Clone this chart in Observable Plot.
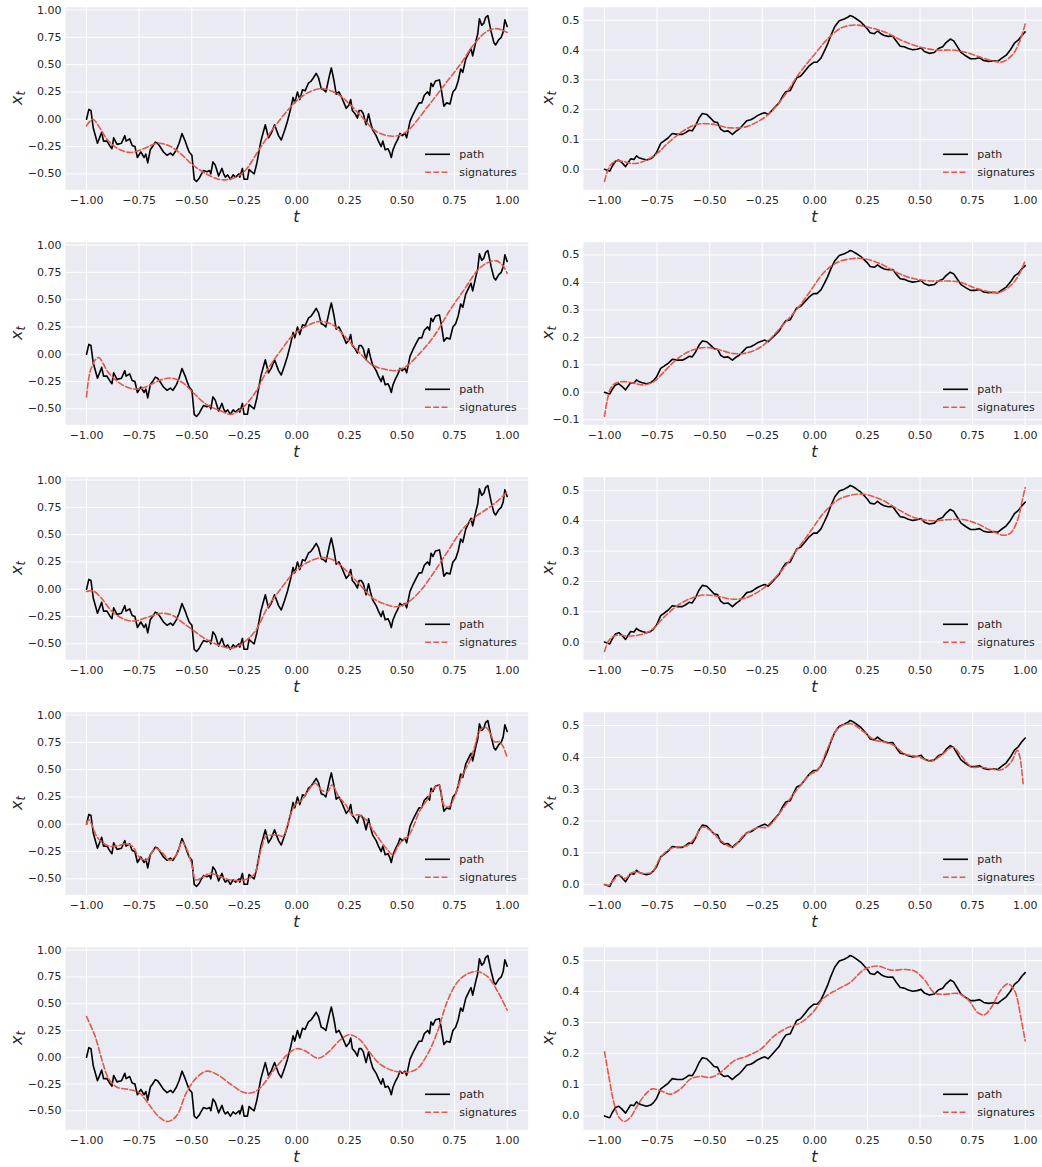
<!DOCTYPE html>
<html><head><meta charset="utf-8">
<script src="https://cdn.jsdelivr.net/npm/d3@7"></script>
<script src="https://cdn.jsdelivr.net/npm/@observablehq/plot@0.6"></script>
<style>
html,body{margin:0;padding:0;background:#fff;overflow:hidden;}
#fig{position:relative;width:1042px;height:1167px;overflow:hidden;background:#fff;}
.panel{position:absolute;}
</style></head><body><div id="fig"></div>
<script>
// ---- ticks / labels ----
const tTicks = [-1, -0.75, -0.5, -0.25, 0, 0.25, 0.5, 0.75, 1];
const leftYTicks = [-0.5, -0.25, 0, 0.25, 0.5, 0.75, 1];
const rightYTicks = [-0.1, 0, 0.1, 0.2, 0.3, 0.4, 0.5];
const legendLabels = ["path", "signatures"];
const xLabel = "t";
const yLabelMain = "x", yLabelSub = "t";

// ---- left path (t, x_t) ----
const leftPath = [
[-1.000,0.00],[-0.989,0.09],[-0.979,0.08],[-0.968,-0.08],[-0.948,-0.22],[-0.928,-0.12],[-0.919,-0.20],[-0.903,-0.20],
[-0.887,-0.25],[-0.879,-0.27],[-0.871,-0.17],[-0.855,-0.23],[-0.834,-0.22],[-0.818,-0.15],[-0.812,-0.20],[-0.795,-0.18],
[-0.783,-0.24],[-0.770,-0.25],[-0.758,-0.35],[-0.742,-0.30],[-0.726,-0.35],[-0.718,-0.32],[-0.709,-0.40],[-0.697,-0.28],
[-0.686,-0.25],[-0.673,-0.21],[-0.662,-0.22],[-0.651,-0.25],[-0.634,-0.30],[-0.617,-0.33],[-0.601,-0.31],[-0.589,-0.33],
[-0.573,-0.28],[-0.560,-0.22],[-0.546,-0.13],[-0.531,-0.20],[-0.520,-0.26],[-0.512,-0.30],[-0.499,-0.33],[-0.488,-0.55],
[-0.477,-0.57],[-0.464,-0.54],[-0.456,-0.51],[-0.444,-0.47],[-0.428,-0.48],[-0.415,-0.47],[-0.409,-0.50],[-0.399,-0.39],
[-0.388,-0.42],[-0.380,-0.47],[-0.372,-0.52],[-0.356,-0.45],[-0.348,-0.50],[-0.340,-0.53],[-0.329,-0.51],[-0.316,-0.55],
[-0.303,-0.51],[-0.291,-0.53],[-0.275,-0.50],[-0.271,-0.53],[-0.259,-0.45],[-0.251,-0.55],[-0.235,-0.55],[-0.227,-0.46],
[-0.216,-0.48],[-0.203,-0.50],[-0.190,-0.40],[-0.171,-0.20],[-0.150,-0.05],[-0.135,-0.17],[-0.122,-0.13],[-0.106,-0.05],
[-0.087,-0.15],[-0.074,-0.19],[-0.058,-0.10],[-0.045,-0.02],[-0.029,0.10],[-0.018,0.20],[-0.010,0.15],[0.003,0.25],
[0.014,0.18],[0.027,0.27],[0.039,0.26],[0.055,0.33],[0.068,0.35],[0.079,0.38],[0.092,0.42],[0.103,0.38],
[0.116,0.28],[0.127,0.27],[0.138,0.25],[0.155,0.40],[0.164,0.47],[0.177,0.35],[0.187,0.23],[0.200,0.25],
[0.213,0.20],[0.224,0.15],[0.235,0.10],[0.248,0.13],[0.256,0.18],[0.264,0.08],[0.277,0.05],[0.288,0.01],
[0.296,0.08],[0.306,0.08],[0.316,0.05],[0.329,-0.05],[0.341,0.05],[0.349,-0.02],[0.361,-0.10],[0.377,-0.15],
[0.388,-0.20],[0.401,-0.25],[0.409,-0.20],[0.420,-0.28],[0.433,-0.27],[0.441,-0.30],[0.449,-0.35],[0.457,-0.28],
[0.470,-0.22],[0.481,-0.18],[0.490,-0.13],[0.501,-0.15],[0.514,-0.13],[0.522,-0.17],[0.538,-0.02],[0.554,0.05],
[0.567,0.10],[0.581,0.15],[0.594,0.15],[0.606,0.22],[0.622,0.25],[0.631,0.22],[0.638,0.33],[0.647,0.30],
[0.659,0.35],[0.678,0.36],[0.686,0.28],[0.699,0.12],[0.712,0.15],[0.728,0.14],[0.742,0.25],[0.755,0.28],
[0.767,0.35],[0.779,0.46],[0.789,0.43],[0.803,0.55],[0.820,0.62],[0.828,0.65],[0.836,0.58],[0.852,0.72],
[0.860,0.78],[0.868,0.92],[0.879,0.86],[0.889,0.88],[0.897,0.93],[0.908,0.95],[0.924,0.80],[0.937,0.70],
[0.945,0.68],[0.960,0.73],[0.972,0.75],[0.981,0.80],[0.989,0.91],[1.000,0.85]
];

// ---- right path (t, x_t) ----
const rightPath = [
[-1.000,0.000],[-0.984,-0.004],[-0.975,-0.006],[-0.963,0.011],[-0.948,0.027],[-0.932,0.031],[-0.916,0.021],[-0.900,0.009],
[-0.889,0.021],[-0.876,0.035],[-0.860,0.033],[-0.848,0.045],[-0.837,0.039],[-0.821,0.035],[-0.800,0.031],[-0.781,0.035],
[-0.768,0.042],[-0.752,0.057],[-0.733,0.087],[-0.717,0.095],[-0.698,0.105],[-0.678,0.120],[-0.654,0.117],[-0.630,0.117],
[-0.614,0.123],[-0.598,0.131],[-0.583,0.129],[-0.567,0.147],[-0.551,0.171],[-0.535,0.187],[-0.514,0.184],[-0.495,0.171],
[-0.479,0.159],[-0.463,0.157],[-0.448,0.135],[-0.432,0.127],[-0.413,0.129],[-0.392,0.117],[-0.376,0.127],[-0.360,0.135],
[-0.344,0.147],[-0.324,0.163],[-0.305,0.166],[-0.292,0.171],[-0.273,0.180],[-0.254,0.186],[-0.238,0.190],[-0.222,0.184],
[-0.206,0.196],[-0.186,0.211],[-0.170,0.223],[-0.154,0.244],[-0.138,0.260],[-0.117,0.264],[-0.102,0.286],[-0.086,0.307],
[-0.067,0.313],[-0.048,0.329],[-0.027,0.347],[-0.006,0.359],[0.010,0.359],[0.029,0.373],[0.044,0.395],[0.060,0.419],
[0.076,0.449],[0.095,0.479],[0.116,0.498],[0.140,0.504],[0.156,0.510],[0.168,0.516],[0.179,0.513],[0.195,0.506],
[0.219,0.494],[0.235,0.482],[0.251,0.470],[0.263,0.458],[0.283,0.455],[0.298,0.464],[0.314,0.455],[0.330,0.449],
[0.349,0.446],[0.370,0.447],[0.386,0.431],[0.406,0.413],[0.425,0.411],[0.444,0.405],[0.465,0.401],[0.486,0.403],
[0.505,0.407],[0.521,0.395],[0.544,0.389],[0.568,0.392],[0.587,0.405],[0.608,0.411],[0.624,0.425],[0.644,0.437],
[0.660,0.431],[0.676,0.413],[0.695,0.392],[0.719,0.380],[0.740,0.371],[0.762,0.371],[0.783,0.374],[0.803,0.365],
[0.825,0.362],[0.851,0.364],[0.870,0.362],[0.886,0.371],[0.910,0.383],[0.930,0.401],[0.949,0.423],[0.968,0.434],
[0.984,0.449],[1.000,0.461]
];

// ---- signature approximations, left column (rows 1-5) ----
const sigL1 = [[-1.00,-0.06],[-0.97,0.00],[-0.94,-0.07],[-0.90,-0.19],[-0.85,-0.27],[-0.79,-0.305],[-0.73,-0.27],[-0.66,-0.22],
[-0.60,-0.25],[-0.55,-0.32],[-0.50,-0.41],[-0.44,-0.49],[-0.38,-0.545],[-0.34,-0.555],[-0.29,-0.53],[-0.25,-0.48],[-0.17,-0.25],
[-0.095,-0.04],[0.00,0.17],[0.06,0.25],[0.12,0.28],[0.19,0.235],[0.25,0.14],[0.30,0.04],[0.38,-0.115],[0.46,-0.155],[0.52,-0.115],
[0.62,0.11],[0.70,0.31],[0.78,0.51],[0.84,0.68],[0.90,0.80],[0.95,0.83],[1.00,0.795]];
const sigL2 = [[-1.00,-0.39],[-0.98,-0.14],[-0.944,-0.03],[-0.895,-0.17],[-0.83,-0.28],[-0.77,-0.32],[-0.72,-0.30],[-0.64,-0.23],
[-0.59,-0.22],[-0.54,-0.265],[-0.49,-0.357],[-0.43,-0.46],[-0.36,-0.52],[-0.316,-0.55],[-0.27,-0.51],[-0.20,-0.357],[-0.14,-0.143],
[-0.074,0.04],[-0.01,0.19],[0.07,0.28],[0.11,0.30],[0.17,0.27],[0.23,0.16],[0.30,0.01],[0.36,-0.10],[0.425,-0.14],[0.47,-0.15],
[0.52,-0.11],[0.585,0.01],[0.65,0.16],[0.73,0.41],[0.795,0.59],[0.86,0.77],[0.908,0.84],[0.95,0.855],[0.98,0.81],[1.00,0.74]];
const sigL3 = [[-1.00,-0.02],[-0.968,-0.015],[-0.93,-0.08],[-0.88,-0.20],[-0.815,-0.28],[-0.77,-0.29],[-0.70,-0.25],[-0.64,-0.22],
[-0.59,-0.24],[-0.54,-0.31],[-0.49,-0.38],[-0.43,-0.46],[-0.36,-0.52],[-0.316,-0.54],[-0.27,-0.51],[-0.20,-0.39],[-0.14,-0.17],
[-0.074,0.01],[-0.01,0.16],[0.055,0.25],[0.12,0.29],[0.17,0.27],[0.23,0.18],[0.30,0.04],[0.36,-0.08],[0.425,-0.14],[0.47,-0.16],
[0.52,-0.13],[0.585,-0.02],[0.65,0.15],[0.715,0.34],[0.78,0.53],[0.84,0.65],[0.908,0.74],[0.956,0.81],[1.00,0.89]];
const sigL4 = [[-1.000,0.00],[-0.989,0.04],[-0.976,0.00],[-0.952,-0.11],[-0.928,-0.16],[-0.895,-0.20],[-0.855,-0.20],[-0.815,-0.18],
[-0.783,-0.20],[-0.750,-0.30],[-0.718,-0.33],[-0.686,-0.25],[-0.670,-0.22],[-0.638,-0.265],[-0.605,-0.33],[-0.573,-0.28],
[-0.546,-0.16],[-0.525,-0.22],[-0.501,-0.36],[-0.480,-0.51],[-0.452,-0.49],[-0.412,-0.45],[-0.364,-0.48],[-0.316,-0.51],
[-0.251,-0.51],[-0.203,-0.46],[-0.171,-0.235],[-0.147,-0.11],[-0.122,-0.10],[-0.090,-0.10],[-0.066,-0.11],[-0.042,0.006],
[-0.010,0.175],[0.023,0.22],[0.055,0.31],[0.087,0.375],[0.119,0.31],[0.148,0.30],[0.167,0.36],[0.200,0.25],[0.232,0.18],
[0.264,0.085],[0.296,0.085],[0.329,0.04],[0.361,-0.05],[0.393,-0.14],[0.425,-0.22],[0.457,-0.28],[0.481,-0.20],[0.506,-0.14],
[0.530,-0.11],[0.554,-0.02],[0.586,0.13],[0.618,0.22],[0.643,0.31],[0.675,0.36],[0.699,0.175],[0.723,0.16],[0.755,0.28],
[0.787,0.45],[0.820,0.57],[0.844,0.70],[0.868,0.85],[0.895,0.89],[0.916,0.85],[0.940,0.755],[0.964,0.755],[0.981,0.71],[1.000,0.61]];
const sigL5 = [[-1.00,0.38],[-0.96,0.20],[-0.928,-0.016],[-0.895,-0.20],[-0.855,-0.28],[-0.80,-0.30],[-0.75,-0.33],[-0.70,-0.45],
[-0.654,-0.56],[-0.614,-0.60],[-0.573,-0.55],[-0.525,-0.33],[-0.477,-0.19],[-0.428,-0.13],[-0.38,-0.16],[-0.316,-0.25],
[-0.251,-0.33],[-0.21,-0.33],[-0.171,-0.28],[-0.106,-0.11],[-0.042,0.03],[-0.002,0.08],[0.039,0.06],[0.103,-0.01],[0.151,0.05],
[0.20,0.15],[0.248,0.21],[0.296,0.17],[0.345,0.05],[0.393,-0.06],[0.457,-0.125],[0.522,-0.14],[0.57,-0.11],[0.618,0.016],
[0.667,0.23],[0.715,0.52],[0.763,0.70],[0.812,0.78],[0.86,0.80],[0.908,0.75],[0.956,0.61],[1.00,0.44]];

// ---- signature approximations, right column (rows 1-5) ----
const sigR1 = [[-1.00,-0.041],[-0.984,-0.002],[-0.964,0.02],[-0.94,0.028],[-0.908,0.026],[-0.876,0.02],[-0.845,0.02],[-0.80,0.031],
[-0.75,0.053],[-0.70,0.087],[-0.655,0.114],[-0.607,0.137],[-0.56,0.151],[-0.512,0.153],[-0.464,0.148],[-0.417,0.14],[-0.37,0.139],
[-0.32,0.144],[-0.274,0.159],[-0.226,0.181],[-0.18,0.214],[-0.13,0.262],[-0.076,0.32],[0.00,0.387],[0.067,0.442],[0.13,0.476],
[0.194,0.484],[0.258,0.476],[0.338,0.459],[0.417,0.431],[0.497,0.411],[0.576,0.40],[0.656,0.40],[0.72,0.392],[0.80,0.373],
[0.863,0.361],[0.895,0.361],[0.943,0.387],[0.975,0.431],[1.00,0.487]];
const sigR2 = [[-1.00,-0.088],[-0.987,-0.028],[-0.971,0.014],[-0.948,0.033],[-0.908,0.039],[-0.86,0.033],[-0.813,0.027],[-0.765,0.039],
[-0.717,0.075],[-0.67,0.111],[-0.622,0.139],[-0.559,0.159],[-0.51,0.163],[-0.448,0.153],[-0.384,0.141],[-0.32,0.144],[-0.257,0.165],
[-0.21,0.196],[-0.146,0.25],[-0.083,0.304],[-0.019,0.371],[0.044,0.437],[0.108,0.473],[0.171,0.486],[0.235,0.486],[0.314,0.467],
[0.394,0.434],[0.473,0.413],[0.552,0.405],[0.632,0.405],[0.695,0.40],[0.759,0.38],[0.822,0.367],[0.87,0.362],[0.90,0.371],
[0.94,0.395],[0.973,0.431],[1.00,0.479]];
const sigR3 = [[-1.00,-0.031],[-0.98,0.005],[-0.948,0.022],[-0.892,0.02],[-0.83,0.024],[-0.78,0.038],[-0.717,0.082],[-0.654,0.12],
[-0.59,0.144],[-0.527,0.155],[-0.463,0.151],[-0.40,0.142],[-0.337,0.144],[-0.273,0.164],[-0.21,0.197],[-0.146,0.246],[-0.083,0.306],
[-0.019,0.367],[0.044,0.427],[0.108,0.468],[0.171,0.484],[0.235,0.487],[0.314,0.47],[0.394,0.438],[0.473,0.41],[0.552,0.40],
[0.632,0.403],[0.711,0.403],[0.775,0.389],[0.838,0.367],[0.90,0.352],[0.933,0.361],[0.965,0.405],[0.984,0.46],[1.00,0.509]];
const sigR4 = [[-1.00,0.000],[-0.98,-0.002],[-0.956,0.014],[-0.932,0.03],[-0.90,0.019],[-0.876,0.035],[-0.848,0.04],[-0.813,0.035],
[-0.773,0.04],[-0.733,0.087],[-0.686,0.113],[-0.654,0.118],[-0.606,0.123],[-0.567,0.15],[-0.535,0.181],[-0.495,0.17],[-0.448,0.139],
[-0.392,0.118],[-0.337,0.155],[-0.273,0.179],[-0.225,0.181],[-0.17,0.223],[-0.13,0.259],[-0.083,0.30],[-0.019,0.348],[0.013,0.359],
[0.06,0.427],[0.108,0.49],[0.171,0.506],[0.235,0.479],[0.283,0.455],[0.33,0.448],[0.378,0.437],[0.425,0.411],[0.489,0.403],
[0.552,0.388],[0.60,0.406],[0.656,0.432],[0.695,0.406],[0.743,0.371],[0.79,0.369],[0.838,0.364],[0.886,0.361],[0.933,0.385],
[0.962,0.422],[0.975,0.40],[0.99,0.317]];
const sigR5 = [[-1.00,0.206],[-0.98,0.129],[-0.956,0.044],[-0.932,-0.004],[-0.905,-0.018],[-0.876,-0.004],[-0.844,0.033],[-0.805,0.07],
[-0.773,0.087],[-0.733,0.081],[-0.686,0.07],[-0.638,0.087],[-0.59,0.119],[-0.543,0.127],[-0.495,0.124],[-0.448,0.14],[-0.384,0.177],
[-0.32,0.193],[-0.257,0.215],[-0.194,0.257],[-0.13,0.284],[-0.067,0.30],[-0.011,0.332],[0.044,0.38],[0.108,0.407],[0.171,0.431],
[0.235,0.471],[0.298,0.482],[0.362,0.469],[0.425,0.471],[0.473,0.466],[0.52,0.439],[0.568,0.396],[0.616,0.391],[0.68,0.394],
[0.727,0.375],[0.775,0.332],[0.806,0.325],[0.838,0.348],[0.886,0.407],[0.918,0.425],[0.95,0.402],[0.981,0.311],[1.00,0.241]];

const leftSigs = [sigL1, sigL2, sigL3, sigL4, sigL5];
const rightSigs = [sigR1, sigR2, sigR3, sigR4, sigR5];

// ---- drawing ----
const PATH_COLOR = "#000000";
const SIG_COLOR = "#e0594a";
const BG = "#eaeaf2";
const TEXT = "#262626";
const DASH = "5.8,2.5";
const fig = document.getElementById("fig");

function panel(side, row, pathData, sigData) {
  const g = side === "left"
    ? {left: 0, width: 530, mL: 65, mR: 2.3, fmt: ".2f", yTicks: leftYTicks, ylab: 43}
    : {left: 530, width: 516, mL: 53, mR: 0.3, fmt: ".1f", yTicks: rightYTicks, ylab: 30.5};
  const H = 235, mT = 6.7, mB = 45.7;
  const vals = pathData.map(d => d[1]).concat(sigData.map(d => d[1]));
  const lo = d3.min(vals), hi = d3.max(vals), pad = (hi - lo) * 0.05;
  const yDom = [lo - pad, hi + pad];
  const yT = g.yTicks.filter(v => v >= yDom[0] && v <= yDom[1]);
  const svg = Plot.plot({
    width: g.width, height: H,
    marginLeft: g.mL, marginRight: g.mR, marginTop: mT, marginBottom: mB,
    style: {fontFamily: "'DejaVu Sans', sans-serif", fontSize: "11px", color: TEXT, background: "transparent", overflow: "visible", maxWidth: "none"},
    x: {domain: [-1.1, 1.1], ticks: tTicks, tickFormat: d3.format(".2f"), tickSize: 0, tickPadding: 6, label: null},
    y: {domain: yDom, ticks: yT, tickFormat: d3.format(g.fmt), tickSize: 0, tickPadding: 4, label: null},
    marks: [
      Plot.frame({fill: BG, stroke: "none"}),
      Plot.ruleX(tTicks, {stroke: "white", strokeWidth: 1}),
      Plot.ruleY(yT, {stroke: "white", strokeWidth: 1}),
      Plot.line(pathData, {x: d => d[0], y: d => d[1], stroke: PATH_COLOR, strokeWidth: 1.6}),
      Plot.line(sigData, {x: d => d[0], y: d => d[1], stroke: SIG_COLOR, strokeWidth: 1.6, strokeDasharray: DASH, curve: "catmull-rom"})
    ]
  });
  const s = d3.select(svg);
  const pr = g.width - g.mR, pb = H - mB, cx = (g.mL + pr) / 2, cy = (mT + pb) / 2;
  // x label
  s.append("text").attr("x", cx).attr("y", pb + 32.5).attr("text-anchor", "middle")
    .attr("font-style", "italic").attr("font-size", "16px").attr("fill", TEXT).text(xLabel);
  // y label
  const yl = s.append("text").attr("transform", `translate(${g.mL - g.ylab},${cy}) rotate(-90)`)
    .attr("text-anchor", "middle").attr("font-size", "16px").attr("fill", TEXT).attr("font-style", "italic");
  yl.append("tspan").text(yLabelMain);
  yl.append("tspan").attr("font-size", "11.5px").attr("dy", "0.3em").text(yLabelSub);
  // legend
  const lx0 = pr - 102.7, lx1 = pr - 77.7, tx = pr - 68.4;
  const items = [[pb - 35, PATH_COLOR, null], [pb - 17, SIG_COLOR, DASH]];
  items.forEach(([y, c, dash], i) => {
    const ln = s.append("line").attr("x1", lx0).attr("x2", lx1).attr("y1", y).attr("y2", y)
      .attr("stroke", c).attr("stroke-width", 1.6);
    if (dash) ln.attr("stroke-dasharray", dash);
    s.append("text").attr("x", tx).attr("y", y).attr("dy", "0.35em").attr("font-size", "11px")
      .attr("text-anchor", "start").attr("fill", TEXT).text(legendLabels[i]);
  });
  const wrap = document.createElement("div");
  wrap.className = "panel";
  wrap.style.left = g.left + "px";
  wrap.style.top = (row * 235) + "px";
  wrap.style.width = g.width + "px";
  wrap.style.height = H + "px";
  wrap.appendChild(svg);
  fig.appendChild(wrap);
}

for (let r = 0; r < 5; r++) {
  panel("left", r, leftPath, leftSigs[r]);
  panel("right", r, rightPath, rightSigs[r]);
}
</script></body></html>
